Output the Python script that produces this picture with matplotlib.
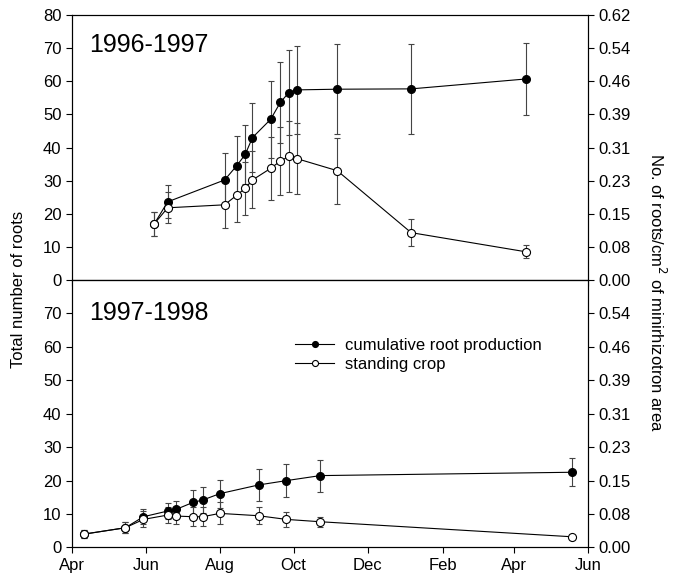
import matplotlib
matplotlib.use("Agg")
import matplotlib.pyplot as plt

plt.rcParams['font.family'] = ['Liberation Sans', 'DejaVu Sans']

# days after 1 April of the season start
top_days = [68, 79, 126, 136, 143, 149, 164, 172, 179, 186, 219, 280, 375]
top_cum = [17.0, 23.6, 30.2, 34.5, 37.9, 43.0, 48.5, 53.6, 56.6, 57.4, 57.6, 57.7, 60.7]
top_cum_err = [3.6, 5.0, 8.0, 9.0, 9.0, 10.3, 11.6, 12.3, 12.8, 13.3, 13.5, 13.5, 11.0]
top_stand = [17.0, 21.8, 22.7, 25.6, 27.7, 30.2, 33.7, 35.9, 37.3, 36.6, 33.0, 14.3, 8.5]
top_stand_err = [3.6, 4.7, 7.0, 8.0, 8.0, 8.6, 9.6, 10.2, 10.6, 10.7, 10.0, 4.0, 2.0]

bot_days = [10, 44, 59, 79, 86, 100, 108, 122, 154, 177, 205, 413]
bot_cum = [4.0, 5.9, 9.2, 10.9, 11.4, 13.5, 14.2, 16.1, 18.7, 20.0, 21.5, 22.5]
bot_cum_err = [1.2, 1.7, 2.2, 2.5, 2.6, 3.7, 3.8, 4.2, 4.7, 5.0, 4.8, 4.2]
bot_stand = [4.0, 5.9, 8.4, 9.7, 9.4, 9.2, 9.2, 10.2, 9.5, 8.4, 7.7, 3.2]
bot_stand_err = [1.2, 1.7, 2.4, 2.5, 2.5, 2.8, 2.8, 3.3, 2.5, 2.3, 1.5, 0.4]

month_days = [0, 61, 122, 183, 244, 306, 365, 426]
month_labels = ['Apr', 'Jun', 'Aug', 'Oct', 'Dec', 'Feb', 'Apr', 'Jun']

top_left_ticks = [0, 10, 20, 30, 40, 50, 60, 70, 80]
top_right_labels = ['0.00', '0.08', '0.15', '0.23', '0.31', '0.39', '0.46', '0.54', '0.62']
bot_left_ticks = [0, 10, 20, 30, 40, 50, 60, 70]
bot_right_labels = ['0.00', '0.08', '0.15', '0.23', '0.31', '0.39', '0.46', '0.54']

fig = plt.figure(figsize=(6.76, 5.82), dpi=100)
ax1 = fig.add_axes([0.1065, 0.5189, 0.7633, 0.4553])
ax2 = fig.add_axes([0.1065, 0.0593, 0.7633, 0.4596])


def draw(ax, days, cum, cum_err, stand, stand_err, label, yticks, rlabels, ty):
    ax.errorbar(days, cum, yerr=cum_err, fmt='none', ecolor='#444444',
                elinewidth=0.8, capsize=2.5, capthick=0.8, zorder=1)
    ax.errorbar(days, stand, yerr=stand_err, fmt='none', ecolor='#444444',
                elinewidth=0.8, capsize=2.5, capthick=0.8, zorder=1)
    ax.plot(days, cum, '-o', color='black', lw=0.8, ms=5.5,
            mfc='black', mec='black', zorder=3, label='cumulative root production')
    ax.plot(days, stand, '-o', color='black', lw=0.8, ms=5.8,
            mfc='white', mec='black', mew=0.8, zorder=4, label='standing crop')
    ax.set_xlim(0, 426)
    ax.set_ylim(0, 80)
    ax.set_yticks(yticks)
    ax.set_xticks(month_days)
    ax.tick_params(labelsize=12, length=4, width=0.8)
    for s in ax.spines.values():
        s.set_linewidth(0.8)
    ax.text(0.033, ty, label, transform=ax.transAxes, fontsize=18,
            va='center', ha='left')
    axr = ax.twinx()
    axr.set_ylim(0, 80)
    axr.set_yticks(yticks)
    axr.set_yticklabels(rlabels)
    axr.tick_params(labelsize=12, length=4, width=0.8)
    for s in axr.spines.values():
        s.set_linewidth(0.8)
    return axr


draw(ax1, top_days, top_cum, top_cum_err, top_stand, top_stand_err,
     '1996-1997', top_left_ticks, top_right_labels, 0.887)
ax1.set_xticklabels([])
draw(ax2, bot_days, bot_cum, bot_cum_err, bot_stand, bot_stand_err,
     '1997-1998', bot_left_ticks, bot_right_labels, 0.875)
ax2.set_xticklabels(month_labels)

ax2.legend(loc='upper left', bbox_to_anchor=(0.433, 0.785), frameon=False,
           fontsize=12, handlelength=2.3, handletextpad=0.7, labelspacing=0.25,
           markerscale=0.75, borderaxespad=0, borderpad=0)

fig.text(0.027, 0.502, 'Total number of roots', rotation=90,
         ha='center', va='center', fontsize=12)
fig.text(0.972, 0.498, 'No. of roots/cm$^2$ of minirhizotron area',
         rotation=270, ha='center', va='center', fontsize=12)

fig.savefig('out.png', dpi=100)
